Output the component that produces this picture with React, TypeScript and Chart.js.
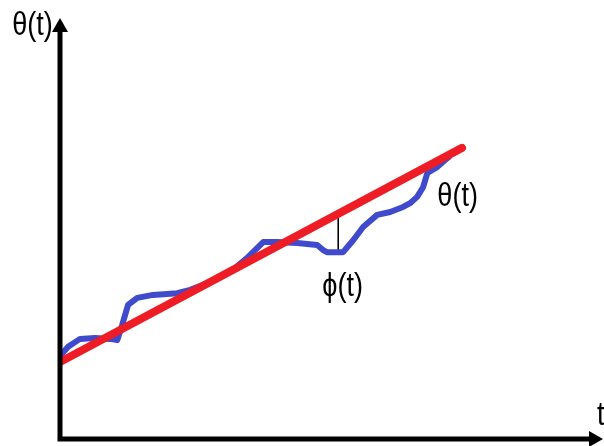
import React, { useEffect, useRef } from "react";
import { Chart, registerables } from "chart.js";

Chart.register(...registerables);

// Straight line theta(t)
const T_THETA = [0, 7.44];
const THETA = [1.84, 6.95];

// Wiggly line phi(t)
const T_PHI = [0, 0.15, 0.37, 0.65, 0.93, 1.06, 1.15, 1.26, 1.43, 1.72, 2.17, 2.41, 2.59, 2.78, 3.0, 3.24, 3.46, 3.61, 3.76, 4.02, 4.39, 4.76, 4.87, 4.94, 5.24, 5.43, 5.61, 5.87, 6.11, 6.35, 6.48, 6.61, 6.72, 6.8, 6.98, 7.17, 7.22];
const PHI = [1.98, 2.2, 2.39, 2.41, 2.39, 2.36, 2.72, 3.2, 3.37, 3.44, 3.48, 3.56, 3.65, 3.75, 3.89, 4.08, 4.32, 4.51, 4.7, 4.7, 4.68, 4.63, 4.51, 4.46, 4.46, 4.75, 5.06, 5.35, 5.42, 5.54, 5.63, 5.78, 6.01, 6.35, 6.49, 6.71, 6.75];

// Gap marker between the two lines
const T_GAP = [5.15, 5.15];
const GAP = [5.36, 4.46];

// Text labels (position = centre x, baseline y in data units)
const LABELS = ["θ(t)", "θ(t)", "ϕ(t)", "t"];
const LABEL_T = [-0.51, 7.36, 5.23, 9.94];
const LABEL_V = [9.64, 5.56, 3.41, 0.33];
const LABEL_ALIGN: CanvasTextAlign[] = ["center", "center", "center", "left"];

const X_MAX = 10.05;
const Y_MAX = 10.05;

const toPts = (xs: number[], ys: number[]) => xs.map((x, i) => ({ x, y: ys[i] }));

const axesPlugin = {
  id: "axesArrows",
  afterDatasetsDraw(chart: any) {
    const ctx = chart.ctx;
    const xs = chart.scales.x;
    const ys = chart.scales.y;
    const x0 = xs.getPixelForValue(0);
    const y0 = ys.getPixelForValue(0);
    const xEnd = xs.getPixelForValue(X_MAX);
    const yEnd = ys.getPixelForValue(Y_MAX);
    const headLen = 14;
    const headHalf = 8;
    ctx.save();
    ctx.strokeStyle = "#000";
    ctx.fillStyle = "#000";
    ctx.lineWidth = 5;
    ctx.lineJoin = "miter";
    ctx.lineCap = "butt";
    ctx.beginPath();
    ctx.moveTo(x0, yEnd + headLen - 1);
    ctx.lineTo(x0, y0);
    ctx.lineTo(xEnd - headLen + 1, y0);
    ctx.stroke();
    // y arrow head
    ctx.beginPath();
    ctx.moveTo(x0, yEnd);
    ctx.lineTo(x0 - headHalf, yEnd + headLen);
    ctx.lineTo(x0 + headHalf, yEnd + headLen);
    ctx.closePath();
    ctx.fill();
    // x arrow head
    ctx.beginPath();
    ctx.moveTo(xEnd, y0);
    ctx.lineTo(xEnd - headLen, y0 - headHalf);
    ctx.lineTo(xEnd - headLen, y0 + headHalf);
    ctx.closePath();
    ctx.fill();

    ctx.font = "33px 'Liberation Sans', Arial, sans-serif";
    ctx.textBaseline = "alphabetic";
    LABELS.forEach((txt, i) => {
      ctx.save();
      ctx.translate(xs.getPixelForValue(LABEL_T[i]), ys.getPixelForValue(LABEL_V[i]));
      ctx.scale(0.82, 1);
      ctx.textAlign = LABEL_ALIGN[i];
      ctx.fillText(txt, 0, 0);
      ctx.restore();
    });
    ctx.restore();
  },
};

export default function App() {
  const ref = useRef<HTMLCanvasElement>(null);
  useEffect(() => {
    document.body.style.margin = "0";
    const chart = new Chart(ref.current!, {
      type: "scatter",
      data: {
        datasets: [
          {
            data: toPts(T_THETA, THETA),
            showLine: true,
            borderColor: "#ee1d25",
            borderWidth: 8,
            borderCapStyle: "round",
            pointRadius: 0,
            order: 0,
          },
          {
            data: toPts(T_PHI, PHI),
            showLine: true,
            borderColor: "#3f4bcc",
            borderWidth: 6,
            borderJoinStyle: "round",
            pointRadius: 0,
            order: 1,
          },
          {
            data: toPts(T_GAP, GAP),
            showLine: true,
            borderColor: "#000",
            borderWidth: 1,
            pointRadius: 0,
            order: 2,
          },
        ],
      } as any,
      options: {
        animation: false,
        responsive: false,
        devicePixelRatio: 1,
        layout: { padding: { left: 60, right: 1, top: 18, bottom: 7 } },
        plugins: { legend: { display: false }, tooltip: { enabled: false } },
        scales: {
          x: { type: "linear", min: 0, max: X_MAX, display: false },
          y: { type: "linear", min: 0, max: Y_MAX, display: false },
        },
      },
      plugins: [axesPlugin],
    });
    return () => chart.destroy();
  }, []);
  return (
    <div style={{ width: 604, height: 446, background: "#fff" }}>
      <canvas ref={ref} width={604} height={446} />
    </div>
  );
}
